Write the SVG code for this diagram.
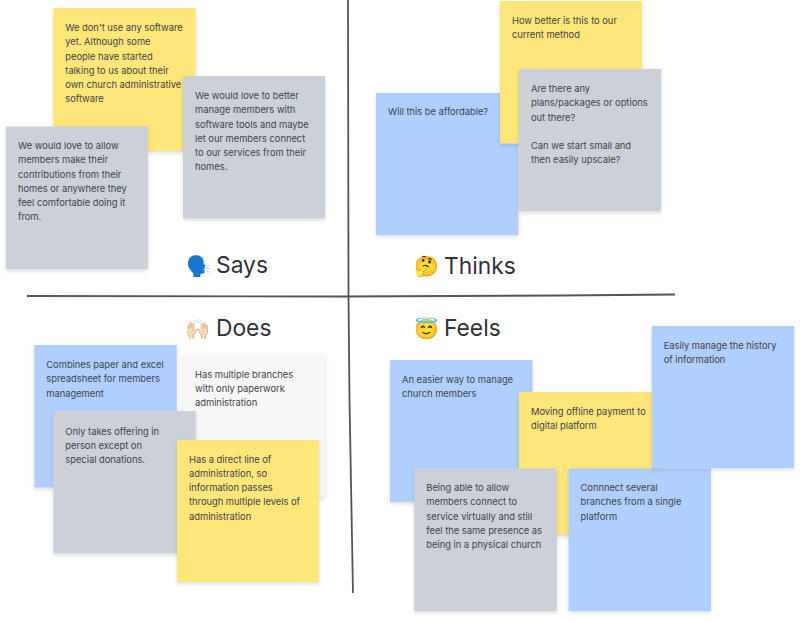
<svg xmlns="http://www.w3.org/2000/svg" width="800" height="622" viewBox="0 0 800 622">
<style>
text{font-family:Inter,"Noto Sans",sans-serif;fill:#3f444a}
.t{font-size:9.400px;letter-spacing:-.03px}
.h{font-size:22.800px;fill:#2f3237}
.e{font-size:20px;font-family:"Noto Color Emoji","Apple Color Emoji",Inter,sans-serif}
.n{filter:url(#s)}
.y{fill:#ffe679}.g{fill:#ccd1d9}.b{fill:#afcfff}.w{fill:#f7f7f7}
.l{fill:none;stroke:#555;stroke-width:1.8}
</style>
<defs>
<filter id="s" x="-10%" y="-10%" width="120%" height="125%"><feDropShadow dx="0" dy="2" stdDeviation="2.200" flood-color="#000" flood-opacity=".13"/></filter>
</defs>
<rect width="800" height="622" fill="#fff"/>
<g id="connectors">
<path class="l" d="M348 0L348.500 296L349.500 400L353 593"/>
<path class="l" d="M27 296L340 296.500L560 295.500L675 294.500"/>
</g>
<g id="says-yellow"><rect class="n y" x="53.300" y="8" width="142.500" height="143"/><text class="t" x="65.300" y="31">We don't use any software<tspan x="65.300" dy="14.250">yet. Although some</tspan><tspan x="65.300" dy="14.250">people have started</tspan><tspan x="65.300" dy="14.250">talking to us about their</tspan><tspan x="65.300" dy="14.250">own church administrative</tspan><tspan x="65.300" dy="14.250">software</tspan></text></g>
<g id="says-left"><rect class="n g" x="6" y="126.500" width="142" height="142.500"/><text class="t" x="18" y="149">We would love to allow<tspan x="18" dy="14.250">members make their</tspan><tspan x="18" dy="14.250">contributions from their</tspan><tspan x="18" dy="14.250">homes or anywhere they</tspan><tspan x="18" dy="14.250">feel comfortable doing it</tspan><tspan x="18" dy="14.250">from.</tspan></text></g>
<g id="says-right"><rect class="n g" x="183" y="76" width="142" height="142.500"/><text class="t" x="195" y="99">We would love to better<tspan x="195" dy="14.250">manage members with</tspan><tspan x="195" dy="14.250">software tools and maybe</tspan><tspan x="195" dy="14.250">let our members connect</tspan><tspan x="195" dy="14.250">to our services from their</tspan><tspan x="195" dy="14.250">homes.</tspan></text></g>
<g id="says-title"><text class="e" x="186.500" y="272.500">🗣️</text><text class="h" x="216" y="273">Says</text></g>
<g id="thinks-blue"><rect class="n b" x="376" y="93" width="142.500" height="142"/><text class="t" x="388" y="115">Will this be affordable?</text></g>
<g id="thinks-yellow"><rect class="n y" x="500" y="1" width="142" height="142.500"/><text class="t" x="512" y="24">How better is this to our<tspan x="512" dy="14.250">current method</tspan></text></g>
<g id="thinks-gray"><rect class="n g" x="519" y="69" width="142" height="142.500"/><text class="t" x="531" y="92">Are there any<tspan x="531" dy="14.250">plans/packages or options</tspan><tspan x="531" dy="14.250">out there?</tspan><tspan x="531" dy="28.500">Can we start small and</tspan><tspan x="531" dy="14.250">then easily upscale?</tspan></text></g>
<g id="thinks-title"><text class="e" x="414.500" y="272.500">🤔</text><text class="h" x="444" y="274">Thinks</text></g>
<g id="does-title"><text class="e" x="185.500" y="335.500">🙌🏻</text><text class="h" x="216" y="336">Does</text></g>
<g id="does-blue"><rect class="n b" x="34.300" y="345" width="142.500" height="142.500"/><text class="t" x="46.300" y="368">Combines paper and excel<tspan x="46.300" dy="14.250">spreadsheet for members</tspan><tspan x="46.300" dy="14.250">management</tspan></text></g>
<g id="does-white"><rect class="n w" x="183" y="354.500" width="142" height="142.500"/><text class="t" x="195" y="377.500">Has multiple branches<tspan x="195" dy="14.250">with only paperwork</tspan><tspan x="195" dy="14.250">administration</tspan></text></g>
<g id="does-gray"><rect class="n g" x="53.300" y="411" width="142.500" height="142.500"/><text class="t" x="65.300" y="434.500">Only takes offering in<tspan x="65.300" dy="14.250">person except on</tspan><tspan x="65.300" dy="14.250">special donations.</tspan></text></g>
<g id="does-yellow"><rect class="n y" x="177" y="440" width="142" height="142"/><text class="t" x="189" y="462.500">Has a direct line of<tspan x="189" dy="14.250">administration, so</tspan><tspan x="189" dy="14.250">information passes</tspan><tspan x="189" dy="14.250">through multiple levels of</tspan><tspan x="189" dy="14.250">administration</tspan></text></g>
<g id="feels-title"><text class="e" x="414.500" y="335.500">😇</text><text class="h" x="444" y="336">Feels</text></g>
<g id="feels-blue1"><rect class="n b" x="390" y="360" width="142.500" height="142"/><text class="t" x="402" y="382.500">An easier way to manage<tspan x="402" dy="14.250">church members</tspan></text></g>
<g id="feels-yellow"><rect class="n y" x="519" y="392" width="143" height="143"/><text class="t" x="531" y="415">Moving offline payment to<tspan x="531" dy="14.250">digital platform</tspan></text></g>
<g id="feels-gray"><rect class="n g" x="414.300" y="468.500" width="142.500" height="142.500"/><text class="t" x="426.300" y="491">Being able to allow<tspan x="426.300" dy="14.250">members connect to</tspan><tspan x="426.300" dy="14.250">service virtually and still</tspan><tspan x="426.300" dy="14.250">feel the same presence as</tspan><tspan x="426.300" dy="14.250">being in a physical church</tspan></text></g>
<g id="feels-blue2"><rect class="n b" x="568.500" y="468.500" width="142.500" height="142.500"/><text class="t" x="580.500" y="491">Connnect several<tspan x="580.500" dy="14.250">branches from a single</tspan><tspan x="580.500" dy="14.250">platform</tspan></text></g>
<g id="feels-blue3"><rect class="n b" x="651.700" y="326" width="142.500" height="142"/><text class="t" x="663.700" y="349">Easily manage the history<tspan x="663.700" dy="14.250">of information</tspan></text></g>
</svg>
